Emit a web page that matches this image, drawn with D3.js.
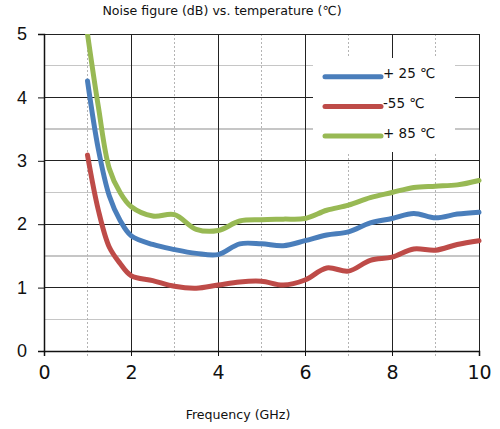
<!DOCTYPE html>
<html>
<head>
<meta charset="utf-8">
<script src="https://cdn.jsdelivr.net/npm/d3@7"></script>
<style>
  body { margin: 0; background: #fff; }
  svg { display: block; }
</style>
</head>
<body>
<div id="wrapper"></div>
<script>
// 1) Data
const frequencies = [1, 1.25, 1.5, 1.75, 2, 2.5, 3, 3.5, 4, 4.5, 5, 5.5, 6, 6.5, 7, 7.5, 8, 8.5, 9, 9.5, 10]
const nf25 = [4.26, 3.18, 2.45, 2.06, 1.82, 1.68, 1.6, 1.54, 1.52, 1.69, 1.69, 1.66, 1.74, 1.83, 1.88, 2.02, 2.09, 2.17, 2.1, 2.16, 2.19]
const nfMinus55 = [3.09, 2.22, 1.64, 1.38, 1.19, 1.11, 1.02, 0.99, 1.04, 1.09, 1.1, 1.04, 1.12, 1.31, 1.26, 1.43, 1.48, 1.61, 1.59, 1.68, 1.74]
const nf85 = [5.0, 3.85, 2.88, 2.5, 2.28, 2.13, 2.15, 1.92, 1.9, 2.05, 2.07, 2.08, 2.09, 2.22, 2.3, 2.42, 2.5, 2.58, 2.6, 2.62, 2.69]
const seriesNames = ["+ 25 \u2103", "-55 \u2103", "+ 85 \u2103"]
const seriesColors = ["#4a7ebb", "#be4b48", "#98b954"]
const xTicks = [0, 2, 4, 6, 8, 10]
const yTicks = [0, 1, 2, 3, 4, 5]
const title = "Noise figure (dB) vs. temperature (\u2103)"
const xLabel = "Frequency (GHz)"

const series = [nf25, nfMinus55, nf85].map((values, i) => ({
  name: seriesNames[i],
  color: seriesColors[i],
  points: values.map((v, j) => ({ f: frequencies[j], nf: v })),
}))

// 2) Dimensions
const dimensions = {
  width: 500,
  height: 429,
  margins: { top: 34, right: 21, bottom: 78, left: 44 },
}
dimensions.boundedWidth =
  dimensions.width - dimensions.margins.left - dimensions.margins.right
dimensions.boundedHeight =
  dimensions.height - dimensions.margins.top - dimensions.margins.bottom

// 3) Canvas
const svg = d3
  .select("#wrapper")
  .append("svg")
  .attr("width", dimensions.width)
  .attr("height", dimensions.height)

const bounds = svg
  .append("g")
  .attr("transform", `translate(${dimensions.margins.left},${dimensions.margins.top})`)

bounds
  .append("defs")
  .append("clipPath")
  .attr("id", "plot-clip")
  .append("rect")
  .attr("x", -10)
  .attr("y", 0)
  .attr("width", dimensions.boundedWidth + 20)
  .attr("height", dimensions.boundedHeight + 10)

// 4) Scales
const xScale = d3.scaleLinear().domain([0, 10]).range([0, dimensions.boundedWidth])
const yScale = d3.scaleLinear().domain([0, 5]).range([dimensions.boundedHeight, 0])

// 5) Grid
const grid = bounds.append("g").attr("shape-rendering", "crispEdges")

grid
  .selectAll(".y-minor")
  .data(d3.range(0.5, 5, 1))
  .join("line")
  .attr("x1", 0)
  .attr("x2", dimensions.boundedWidth)
  .attr("y1", (d) => yScale(d))
  .attr("y2", (d) => yScale(d))
  .attr("stroke", "#c6c6c6")
  .attr("stroke-width", 1.3)

grid
  .selectAll(".x-minor")
  .data(d3.range(1, 10, 2))
  .join("line")
  .attr("x1", (d) => xScale(d))
  .attr("x2", (d) => xScale(d))
  .attr("y1", 0)
  .attr("y2", dimensions.boundedHeight + 5)
  .attr("stroke", "#b4b4b4")
  .attr("stroke-width", 1.3)
  .attr("stroke-dasharray", "2,2")

grid
  .selectAll(".y-major")
  .data(yTicks.slice(1))
  .join("line")
  .attr("x1", 0)
  .attr("x2", dimensions.boundedWidth)
  .attr("y1", (d) => yScale(d))
  .attr("y2", (d) => yScale(d))
  .attr("stroke", "#222")

grid
  .selectAll(".x-major")
  .data(xTicks.slice(1))
  .join("line")
  .attr("x1", (d) => xScale(d))
  .attr("x2", (d) => xScale(d))
  .attr("y1", 0)
  .attr("y2", dimensions.boundedHeight)
  .attr("stroke", "#222")

// Legend backdrop covers the grid
const legend = bounds.append("g")
legend
  .append("rect")
  .attr("x", 269)
  .attr("y", 24)
  .attr("width", 142)
  .attr("height", 94)
  .attr("fill", "#fff")

// 6) Axes
const xAxisGenerator = d3
  .axisBottom(xScale)
  .tickValues(xTicks)
  .tickFormat(d3.format("d"))
  .tickSize(5)
  .tickPadding(10)
const yAxisGenerator = d3
  .axisLeft(yScale)
  .tickValues(yTicks)
  .tickFormat(d3.format("d"))
  .tickSize(6)
  .tickPadding(11)

const xAxis = bounds
  .append("g")
  .attr("transform", `translate(0,${dimensions.boundedHeight})`)
  .call(xAxisGenerator)
xAxis.select(".domain").attr("stroke", "#111").attr("stroke-width", 1.5)
xAxis.selectAll(".tick line").attr("stroke", "#111")
xAxis
  .selectAll(".tick text")
  .attr("font-family", "DejaVu Sans")
  .attr("font-size", 19)
  .attr("fill", "#111")

const yAxis = bounds.append("g").call(yAxisGenerator)
yAxis.select(".domain").attr("stroke", "#111").attr("stroke-width", 1.5)
yAxis.selectAll(".tick line").attr("stroke", "#111")
yAxis
  .selectAll(".tick text")
  .attr("font-family", "Liberation Sans")
  .attr("font-size", 18)
  .attr("fill", "#111")

// 7) Lines
const lineGenerator = d3
  .line()
  .x((d) => xScale(d.f))
  .y((d) => yScale(d.nf))
  .curve(d3.curveCatmullRom.alpha(0.5))

bounds
  .append("g")
  .attr("clip-path", "url(#plot-clip)")
  .selectAll("path")
  .data(series)
  .join("path")
  .attr("d", (d) => lineGenerator(d.points))
  .attr("fill", "none")
  .attr("stroke", (d) => d.color)
  .attr("stroke-width", 5)
  .attr("stroke-linecap", "round")
  .attr("stroke-linejoin", "round")

// 8) Legend entries
const legendItems = legend
  .selectAll(".item")
  .data(series)
  .join("g")
  .attr("transform", (d, i) => `translate(0,${42.7 + i * 29.7})`)

legendItems
  .append("line")
  .attr("x1", 281)
  .attr("x2", 337)
  .attr("stroke", (d) => d.color)
  .attr("stroke-width", 5)
  .attr("stroke-linecap", "round")

legendItems
  .append("text")
  .attr("x", 339)
  .attr("y", 1.5)
  .attr("font-family", "DejaVu Sans")
  .attr("font-size", 13.5)
  .attr("fill", "#111")
  .text((d) => d.name)

// 9) Titles
svg
  .append("text")
  .attr("x", 222)
  .attr("y", 15)
  .attr("text-anchor", "middle")
  .attr("font-family", "DejaVu Sans")
  .attr("font-size", 12.6)
  .attr("fill", "#111")
  .text(title)

svg
  .append("text")
  .attr("x", 238)
  .attr("y", 419)
  .attr("text-anchor", "middle")
  .attr("font-family", "DejaVu Sans")
  .attr("font-size", 12.6)
  .attr("fill", "#111")
  .text(xLabel)
</script>
</body>
</html>
